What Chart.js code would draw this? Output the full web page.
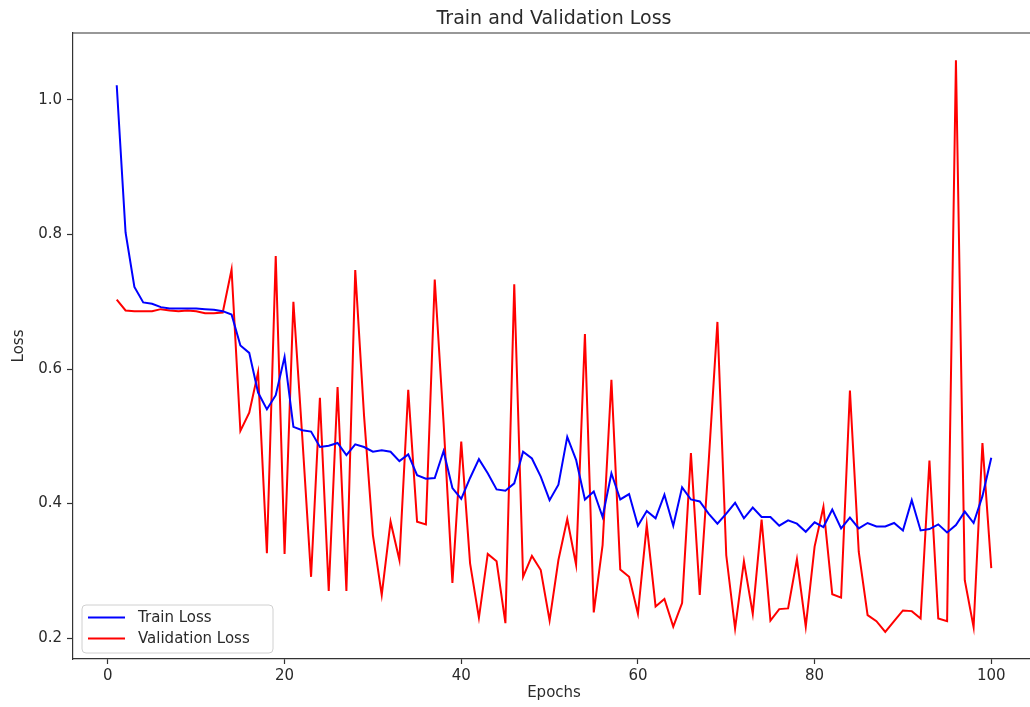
<!DOCTYPE html>
<html>
<head>
<meta charset="utf-8">
<script src="https://cdn.jsdelivr.net/npm/chart.js@4.4.1/dist/chart.umd.min.js"></script>
<style>
  html, body { margin: 0; padding: 0; background: #ffffff; overflow: hidden; width: 1030px; height: 707px; }
  canvas { display: block; }
</style>
</head>
<body>
<canvas id="chart" width="1040" height="707"></canvas>
<script>
const chartTitle = 'Train and Validation Loss';
const xLabel = 'Epochs';
const yLabel = 'Loss';
const seriesNames = ['Train Loss', 'Validation Loss'];

const epochs = [1,2,3,4,5,6,7,8,9,10,
  11,12,13,14,15,16,17,18,19,20,
  21,22,23,24,25,26,27,28,29,30,
  31,32,33,34,35,36,37,38,39,40,
  41,42,43,44,45,46,47,48,49,50,
  51,52,53,54,55,56,57,58,59,60,
  61,62,63,64,65,66,67,68,69,70,
  71,72,73,74,75,76,77,78,79,80,
  81,82,83,84,85,86,87,88,89,90,
  91,92,93,94,95,96,97,98,99,100];

const trainLoss = [1.022,0.803,0.722,0.699,0.697,0.692,0.690,0.690,0.690,0.690,
  0.689,0.688,0.686,0.681,0.635,0.624,0.565,0.540,0.561,0.618,
  0.514,0.509,0.507,0.484,0.486,0.490,0.472,0.488,0.484,0.477,
  0.479,0.477,0.463,0.473,0.442,0.437,0.438,0.478,0.423,0.407,
  0.438,0.466,0.445,0.421,0.419,0.430,0.477,0.467,0.440,0.405,
  0.428,0.499,0.465,0.406,0.418,0.380,0.445,0.406,0.414,0.367,
  0.389,0.378,0.413,0.367,0.424,0.406,0.403,0.385,0.370,0.385,
  0.401,0.378,0.394,0.380,0.380,0.367,0.375,0.370,0.358,0.372,
  0.365,0.391,0.363,0.379,0.363,0.371,0.366,0.366,0.371,0.360,
  0.405,0.360,0.362,0.369,0.357,0.368,0.388,0.371,0.411,0.468];

const valLoss = [0.703,0.687,0.686,0.686,0.686,0.689,0.687,0.686,0.687,0.686,
  0.683,0.683,0.684,0.748,0.508,0.535,0.595,0.326,0.768,0.325,
  0.700,0.500,0.291,0.557,0.270,0.573,0.270,0.747,0.530,0.353,
  0.264,0.373,0.316,0.569,0.373,0.369,0.733,0.520,0.282,0.492,
  0.311,0.230,0.325,0.314,0.222,0.726,0.291,0.322,0.301,0.226,
  0.316,0.377,0.309,0.652,0.238,0.338,0.584,0.302,0.291,0.236,
  0.368,0.247,0.258,0.217,0.252,0.475,0.264,0.460,0.670,0.323,
  0.214,0.314,0.236,0.376,0.226,0.243,0.244,0.317,0.217,0.336,
  0.395,0.265,0.260,0.568,0.328,0.234,0.225,0.209,0.225,0.241,
  0.240,0.229,0.464,0.229,0.225,1.059,0.286,0.216,0.490,0.304];

const xTicks = [0, 20, 40, 60, 80, 100];
const yTicks = [0.2, 0.4, 0.6, 0.8, 1.0];

const FONT = "'DejaVu Sans', 'Liberation Sans', sans-serif";
const TEXT = '#2a2a2a';
const AXIS = '#333333';

const toPoints = (vals) => epochs.map((e, i) => ({ x: e, y: vals[i] }));

const framePlugin = {
  id: 'frame',
  afterDatasetsDraw(chart) {
    const { ctx, chartArea: a } = chart;
    ctx.save();
    ctx.strokeStyle = AXIS;
    ctx.lineWidth = 1.2;
    ctx.beginPath();
    ctx.moveTo(a.left, a.top);
    ctx.lineTo(a.right, a.top);
    ctx.lineTo(a.right, a.bottom);
    ctx.stroke();
    ctx.restore();
  }
};

const legendPlugin = {
  id: 'boxLegend',
  afterDraw(chart) {
    const { ctx, chartArea: a } = chart;
    const x0 = a.left + 9, y1 = a.bottom - 6;
    const w = 191, h = 48, y0 = y1 - h;
    ctx.save();
    ctx.fillStyle = 'rgba(255,255,255,0.85)';
    ctx.strokeStyle = '#d0d0d0';
    ctx.lineWidth = 1;
    ctx.beginPath();
    ctx.roundRect(x0, y0, w, h, 4);
    ctx.fill();
    ctx.stroke();
    ctx.font = '15px ' + FONT;
    ctx.textBaseline = 'middle';
    ctx.textAlign = 'left';
    chart.data.datasets.forEach((ds, i) => {
      const yy = y0 + 12.5 + i * 21;
      ctx.strokeStyle = ds.borderColor;
      ctx.lineWidth = 2;
      ctx.beginPath();
      ctx.moveTo(x0 + 6, yy);
      ctx.lineTo(x0 + 43, yy);
      ctx.stroke();
      ctx.fillStyle = TEXT;
      ctx.fillText(ds.label, x0 + 56, yy + 1);
    });
    ctx.restore();
  }
};

new Chart(document.getElementById('chart'), {
  type: 'line',
  data: {
    datasets: [
      { label: seriesNames[0], data: toPoints(trainLoss), borderColor: '#0000ff', backgroundColor: '#0000ff',
        borderWidth: 2, pointRadius: 0, tension: 0, fill: false },
      { label: seriesNames[1], data: toPoints(valLoss), borderColor: '#ff0000', backgroundColor: '#ff0000',
        borderWidth: 2, pointRadius: 0, tension: 0, fill: false }
    ]
  },
  options: {
    responsive: false,
    animation: false,
    layout: { padding: { left: 0, right: 5, top: 0, bottom: 0 } },
    plugins: {
      legend: { display: false },
      tooltip: { enabled: false },
      title: {
        display: true,
        text: chartTitle,
        fullSize: false,
        color: TEXT,
        font: { family: FONT, size: 19, weight: 'normal' },
        padding: { top: 8, bottom: 2.2 }
      }
    },
    scales: {
      x: {
        type: 'linear',
        min: -3.95,
        max: 104.95,
        afterBuildTicks(scale) { scale.ticks = xTicks.map(v => ({ value: v })); },
        afterFit(scale) { scale.height = 48; },
        ticks: { color: TEXT, font: { family: FONT, size: 15 }, padding: 3, maxRotation: 0,
                 callback: (v) => String(v) },
        grid: { drawOnChartArea: false, drawTicks: true, tickLength: 5, tickColor: AXIS, tickWidth: 1.2 },
        border: { display: true, color: AXIS, width: 1.2 },
        title: { display: true, text: xLabel, color: TEXT, font: { family: FONT, size: 15 }, padding: { top: 0, bottom: 5 } }
      },
      y: {
        type: 'linear',
        min: 0.1688,
        max: 1.0996,
        afterBuildTicks(scale) { scale.ticks = yTicks.map(v => ({ value: v })); },
        afterFit(scale) { scale.width = 73; },
        ticks: { color: TEXT, font: { family: FONT, size: 15 }, padding: 5,
                 callback: (v) => Number(v).toFixed(1) },
        grid: { drawOnChartArea: false, drawTicks: true, tickLength: 6, tickColor: AXIS, tickWidth: 1.2 },
        border: { display: true, color: AXIS, width: 1.2 },
        title: { display: true, text: yLabel, color: TEXT, font: { family: FONT, size: 15 }, padding: { top: 10, bottom: 0 } }
      }
    }
  },
  plugins: [framePlugin, legendPlugin]
});
</script>
</body>
</html>
